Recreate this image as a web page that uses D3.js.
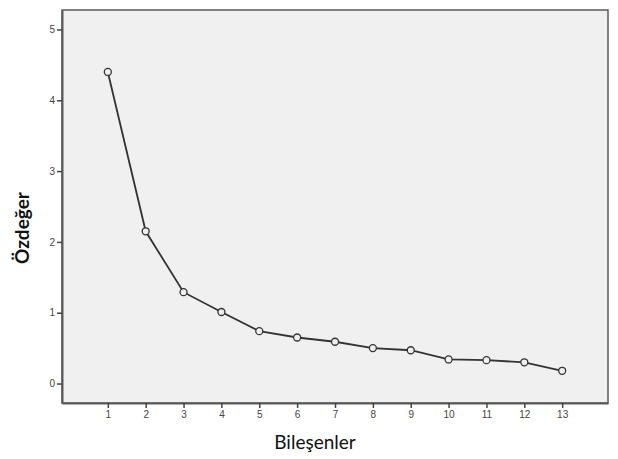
<!DOCTYPE html>
<html>
<head>
<meta charset="utf-8">
<script src="https://cdn.jsdelivr.net/npm/d3@7"></script>
<style>
  body { margin: 0; background: #fff; }
</style>
</head>
<body>
<svg id="chart"></svg>
<script>
const width = 618;
const height = 459;

// Scree plot data
const components = [1, 2, 3, 4, 5, 6, 7, 8, 9, 10, 11, 12, 13];
const eigenvalues = [4.40, 2.15, 1.29, 1.01, 0.74, 0.65, 0.59, 0.50, 0.47, 0.34, 0.33, 0.30, 0.18];
const yTicks = [0, 1, 2, 3, 4, 5];

const frame = { left: 62, top: 10, right: 608, bottom: 403 };

const svg = d3.select("#chart")
  .attr("width", width)
  .attr("height", height);

const x = d3.scaleLinear()
  .domain([-0.21, 14.21])
  .range([frame.left, frame.right]);

const y = d3.scaleLinear()
  .domain([-0.275, 5.275])
  .range([frame.bottom, frame.top]);

// plot background
svg.append("rect")
  .attr("x", frame.left)
  .attr("y", frame.top)
  .attr("width", frame.right - frame.left)
  .attr("height", frame.bottom - frame.top)
  .attr("fill", "#f0f0f0")
  .attr("stroke", "#5a5a5a")
  .attr("stroke-width", 1.5);

// axes
const xAxis = svg.append("g")
  .attr("transform", `translate(0, ${frame.bottom})`)
  .call(d3.axisBottom(x).tickValues(components).tickSize(5).tickSizeOuter(0).tickPadding(3).tickFormat(d3.format("d")));

const yAxis = svg.append("g")
  .attr("transform", `translate(${frame.left}, 0)`)
  .call(d3.axisLeft(y).tickValues(yTicks).tickSize(5).tickSizeOuter(0).tickPadding(2).tickFormat(d3.format("d")));

[xAxis, yAxis].forEach(g => {
  g.select(".domain").attr("stroke", "#5a5a5a").attr("stroke-width", 2);
  g.selectAll(".tick line").attr("stroke", "#444").attr("stroke-width", 1.5);
  g.selectAll(".tick text")
    .attr("fill", "#444")
    .style("font-family", "'Liberation Sans', Arial, sans-serif")
    .style("font-size", "10px");
});

// line
svg.append("path")
  .datum(components.map((c, i) => [c, eigenvalues[i]]))
  .attr("fill", "none")
  .attr("stroke", "#333")
  .attr("stroke-width", 1.8)
  .attr("d", d3.line().x(d => x(d[0])).y(d => y(d[1])));

// markers
svg.append("g")
  .selectAll("circle")
  .data(components)
  .enter()
  .append("circle")
  .attr("cx", d => x(d))
  .attr("cy", (d, i) => y(eigenvalues[i]))
  .attr("r", 3.5)
  .attr("fill", "#f0f0f0")
  .attr("stroke", "#333")
  .attr("stroke-width", 1.3);

// axis titles
svg.append("text")
  .attr("x", (frame.left + frame.right) / 2 - 20)
  .attr("y", 449)
  .attr("text-anchor", "middle")
  .style("font-family", "Lato, 'Open Sans', sans-serif")
  .style("font-size", "19px")
  .attr("fill", "#111")
  .text("Bileşenler");

svg.append("text")
  .attr("transform", `translate(29, 228) rotate(-90)`)
  .attr("text-anchor", "middle")
  .style("font-family", "Lato, 'Open Sans', sans-serif")
  .style("font-size", "19px")
  .style("font-weight", "bold")
  .attr("fill", "#111")
  .text("Özdeğer");
</script>
</body>
</html>
